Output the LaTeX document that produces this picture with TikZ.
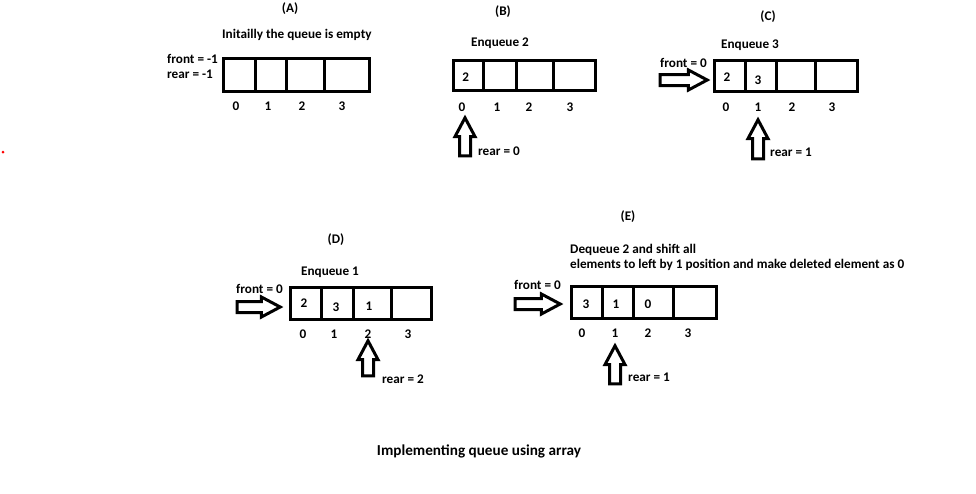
\documentclass[tikz,border=0pt]{standalone}
\usepackage{fontspec}
\setmainfont{Carlito}
\usetikzlibrary{shapes.arrows}
\tikzset{
  lbl/.style={font=\bfseries\fontsize{13.2}{15}\selectfont, inner sep=0pt},
  cell/.style={draw, line width=3pt, inner sep=0pt},
  blockarrow/.style={single arrow, draw, fill=white, line width=3pt,
    inner sep=4pt, outer sep=0pt, single arrow head extend=4.5pt,
    single arrow tip angle=56, anchor=tip},
}
\begin{document}
\begin{tikzpicture}[x=1pt, y=-1pt]
  \useasboundingbox (0,0) rectangle (976,493);
  \fill[red] (3,152) circle (1.5);

  % (A) empty queue
  \node[lbl] (titleA) at (290,9) {(A)};
  \node[lbl, anchor=west] (noteA) at (222,35) {Initailly the queue is empty};
  \node[lbl, anchor=west] (frontA) at (167,59) {front = -1};
  \node[lbl, anchor=west] (rearA) at (167,74) {rear = -1};
  \node[cell, minimum width=32, minimum height=32.5] (A0) at (239,74.75) {};
  \node[cell, minimum width=31, minimum height=32.5] (A1) at (270.5,74.75) {};
  \node[cell, minimum width=38, minimum height=32.5] (A2) at (305,74.75) {};
  \node[cell, minimum width=45.5, minimum height=32.5] (A3) at (346.75,74.75) {};
  \foreach \i/\x in {0/236,1/268,2/302,3/342}
    \node[lbl] (iA\i) at (\x,106) {\i};

  % (B) enqueue 2
  \node[lbl] (titleB) at (503,12) {(B)};
  \node[lbl] (noteB) at (500,43) {Enqueue 2};
  \node[cell, minimum width=30, minimum height=30] (B0) at (468,75.5) {};
  \node[cell, minimum width=33, minimum height=30] (B1) at (499.5,75.5) {};
  \node[cell, minimum width=37, minimum height=30] (B2) at (534.5,75.5) {};
  \node[cell, minimum width=42.5, minimum height=30] (B3) at (574.25,75.5) {};
  \node[lbl] (vB0) at (465.7,77) {2};
  \foreach \i/\x in {0/462,1/497,2/529,3/570}
    \node[lbl] (iB\i) at (\x,107) {\i};
  \node[blockarrow, rotate=90, minimum height=38] (upB) at (465,117.8) {};
  \node[lbl, anchor=west] (rearB) at (478,151) {rear = 0};

  % (C) enqueue 3
  \node[lbl] (titleC) at (768,17) {(C)};
  \node[lbl] (noteC) at (750,45) {Enqueue 3};
  \node[lbl, anchor=west] (frontC) at (660,63) {front = 0};
  \node[cell, minimum width=30.5, minimum height=31] (C0) at (729.75,76) {};
  \node[cell, minimum width=31, minimum height=31] (C1) at (760.5,76) {};
  \node[cell, minimum width=39, minimum height=31] (C2) at (795.5,76) {};
  \node[cell, minimum width=42.5, minimum height=31] (C3) at (836.25,76) {};
  \node[lbl] (vC0) at (727,77) {2};
  \node[lbl] (vC1) at (758,80) {3};
  \foreach \i/\x in {0/726,1/758,2/792,3/832}
    \node[lbl] (iC\i) at (\x,107) {\i};
  \node[blockarrow, minimum height=47] (rightC) at (707.2,80) {};
  \node[blockarrow, rotate=90, minimum height=39] (upC) at (758,119.8) {};
  \node[lbl, anchor=west] (rearC) at (770,152) {rear = 1};

  % (D) enqueue 1
  \node[lbl] (titleD) at (336,240) {(D)};
  \node[lbl] (noteD) at (330,272) {Enqueue 1};
  \node[lbl, anchor=west] (frontD) at (236,289) {front = 0};
  \node[cell, minimum width=30.5, minimum height=32] (D0) at (305.75,303.5) {};
  \node[cell, minimum width=32, minimum height=32] (D1) at (337,303.5) {};
  \node[cell, minimum width=38, minimum height=32] (D2) at (372,303.5) {};
  \node[cell, minimum width=40.5, minimum height=32] (D3) at (411.25,303.5) {};
  \node[lbl] (vD0) at (304,303) {2};
  \node[lbl] (vD1) at (336,307) {3};
  \node[lbl] (vD2) at (369,306) {1};
  \foreach \i/\x in {0/303,1/334,2/368,3/408}
    \node[lbl] (iD\i) at (\x,334) {\i};
  \node[blockarrow, minimum height=43] (rightD) at (280.2,307) {};
  \node[blockarrow, rotate=90, minimum height=35] (upD) at (368,340.8) {};
  \node[lbl, anchor=west] (rearD) at (382,379) {rear = 2};

  % (E) dequeue 2
  \node[lbl] (titleE) at (628,217) {(E)};
  \node[lbl, anchor=west] (noteE) at (570,250) {Dequeue 2 and shift all};
  \node[lbl, anchor=west] (noteE2) at (570,265)
    {elements to left by 1 position and make deleted element as 0};
  \node[lbl, anchor=west] (frontE) at (514,285) {front = 0};
  \node[cell, minimum width=30.5, minimum height=32] (E0) at (586.75,302.5) {};
  \node[cell, minimum width=31, minimum height=32] (E1) at (617.5,302.5) {};
  \node[cell, minimum width=40, minimum height=32] (E2) at (653,302.5) {};
  \node[cell, minimum width=43.5, minimum height=32] (E3) at (694.75,302.5) {};
  \node[lbl] (vE0) at (586,304) {3};
  \node[lbl] (vE1) at (616,304) {1};
  \node[lbl] (vE2) at (648,304) {0};
  \foreach \i/\x in {0/582,1/615,2/648,3/688}
    \node[lbl] (iE\i) at (\x,333) {\i};
  \node[blockarrow, minimum height=45] (rightE) at (560.2,304) {};
  \node[blockarrow, rotate=90, minimum height=38] (upE) at (615,345.8) {};
  \node[lbl, anchor=west] (rearE) at (628,377) {rear = 1};

  \node[lbl, font=\bfseries\fontsize{15.2}{17}\selectfont] (caption) at (479,451)
    {Implementing queue using array};
\end{tikzpicture}
\end{document}
